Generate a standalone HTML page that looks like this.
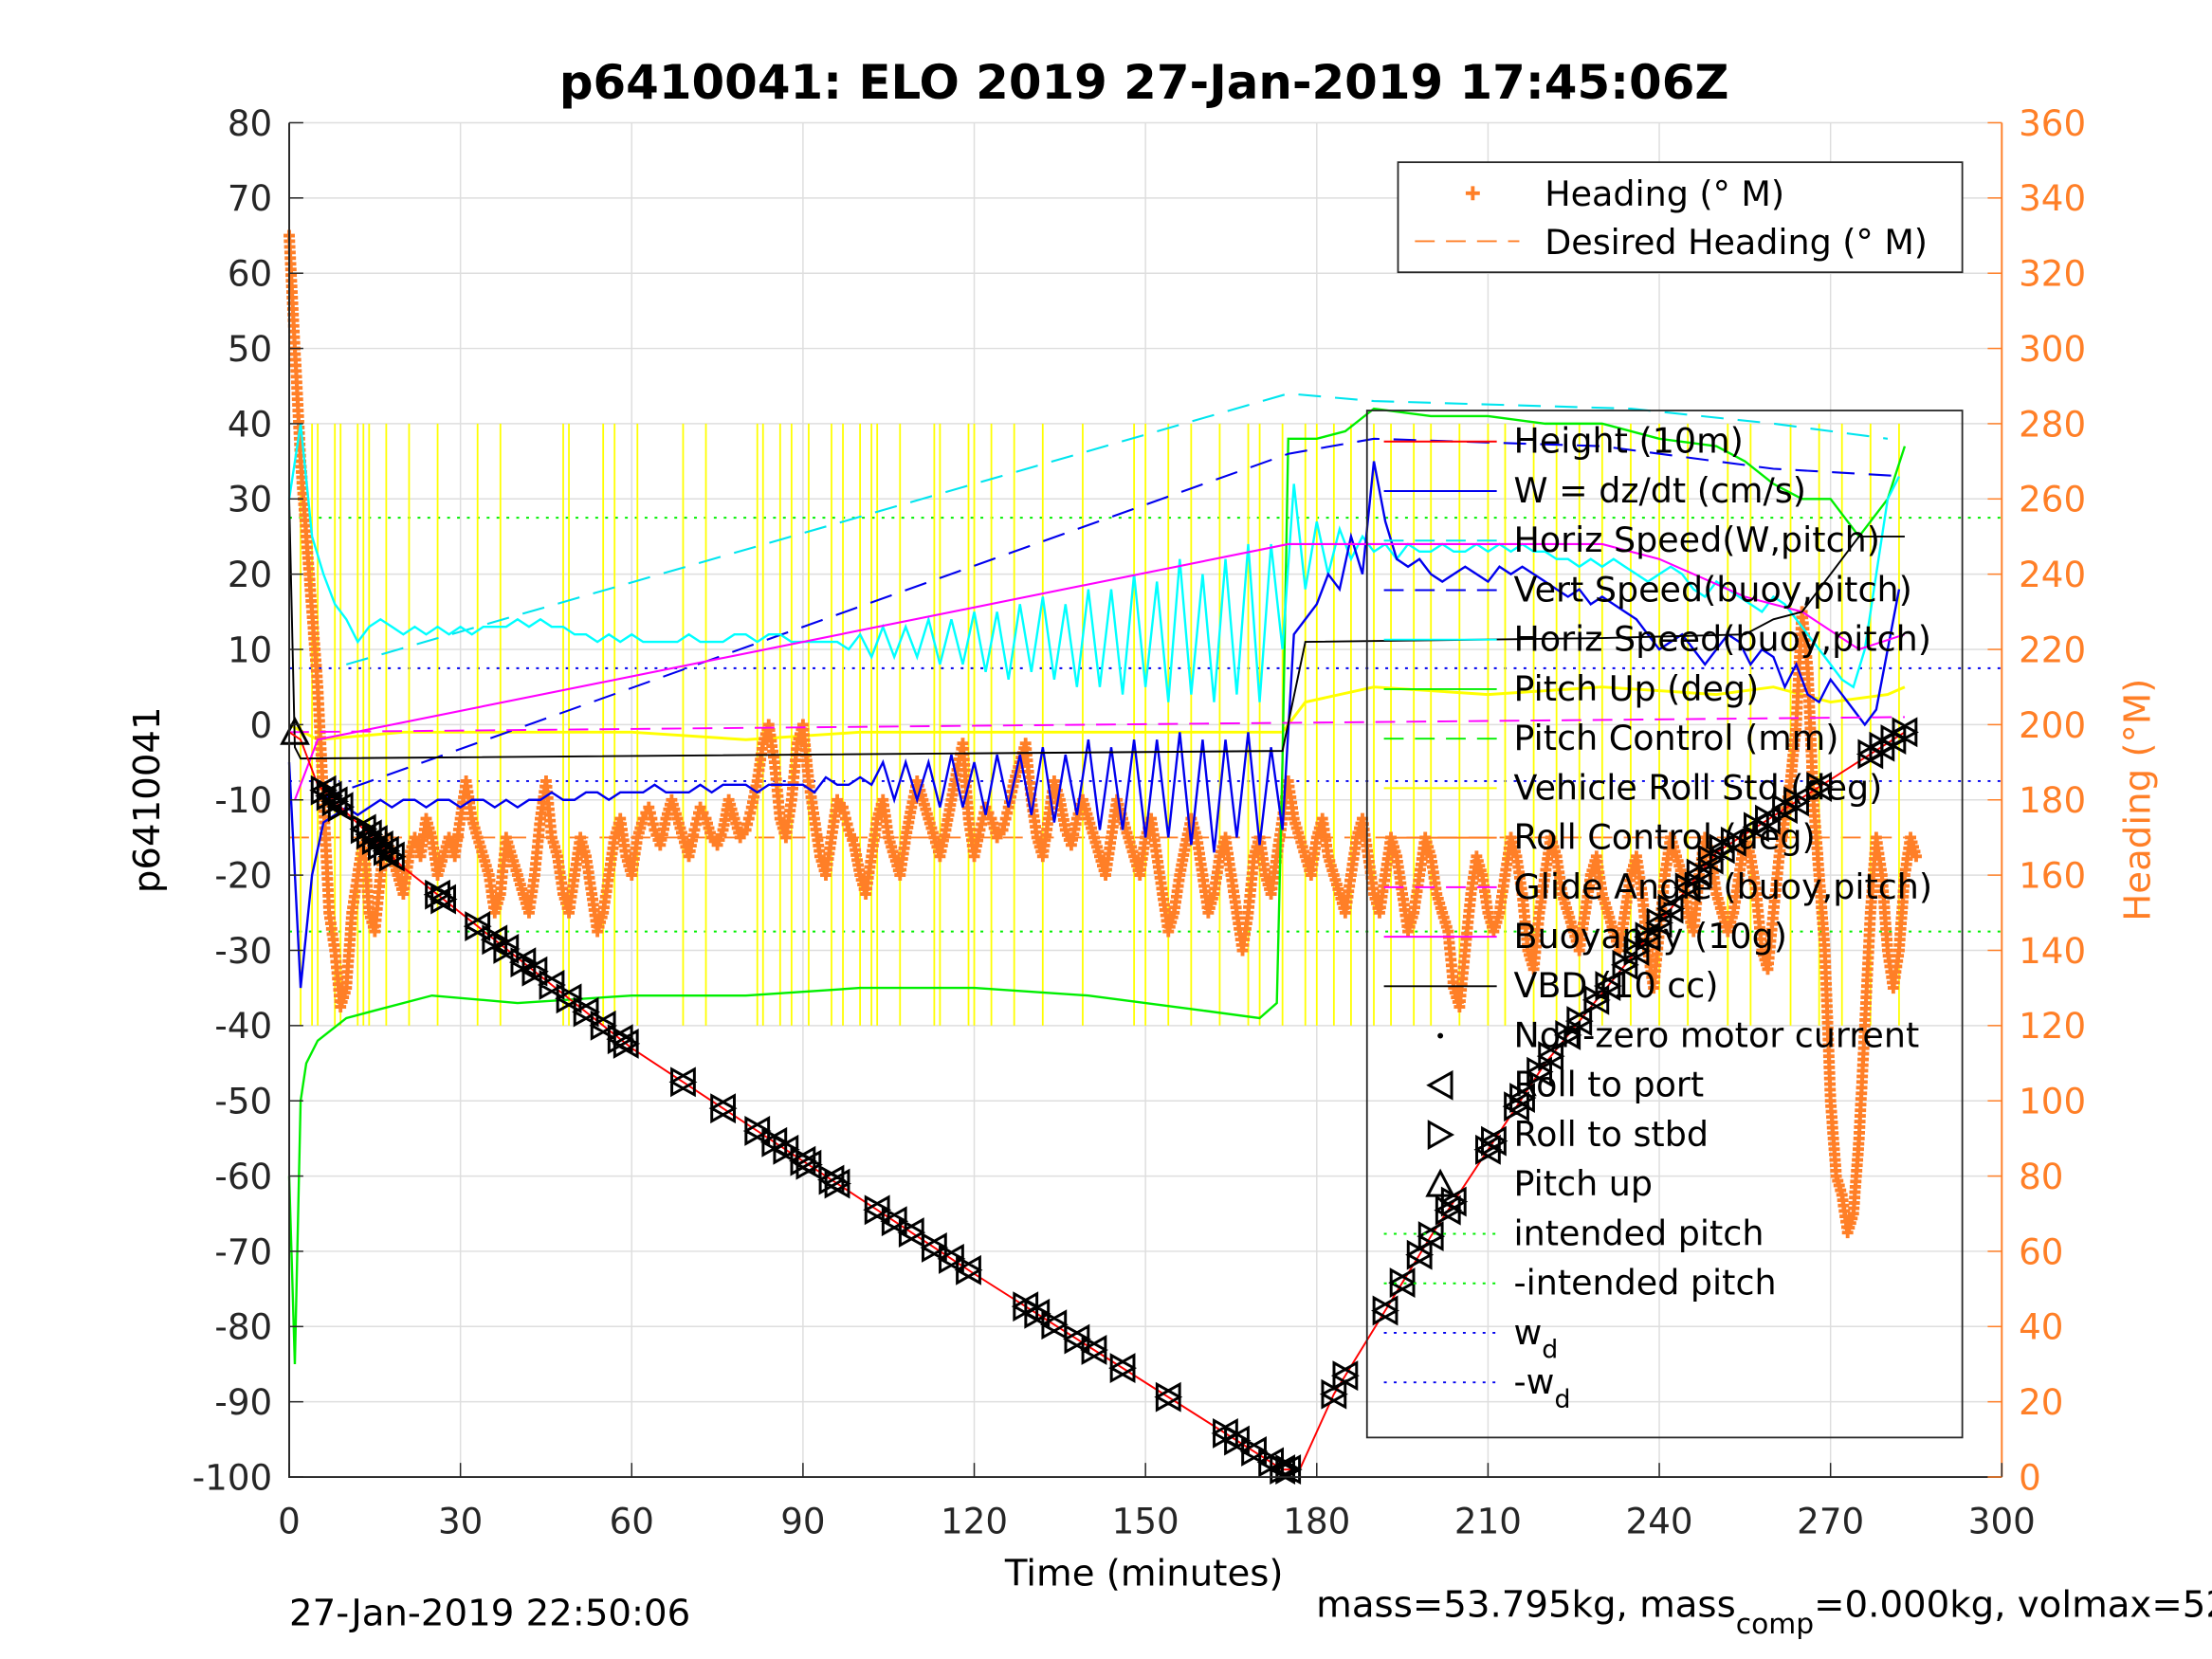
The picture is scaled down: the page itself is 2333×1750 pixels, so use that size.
<!DOCTYPE html>
<html><head><meta charset="utf-8"><style>
html,body{margin:0;padding:0;background:#fff;}
svg{display:block;}
text{font-family:"DejaVu Sans","Liberation Sans",sans-serif;}
</style></head><body>
<svg id="chart" width="2333" height="1750" viewBox="0 0 1568 1176" preserveAspectRatio="none" xmlns="http://www.w3.org/2000/svg">
<rect x="0" y="0" width="1568" height="1176" fill="#fff"/>
<text x="811" y="70" font-size="33.5" font-weight="bold" text-anchor="middle">p6410041: ELO 2019 27-Jan-2019 17:45:06Z</text>
<g id="grid"></g>
<g id="marks"></g>
<g id="axes"></g>
<g id="legend"></g>
<text x="811" y="1124" font-size="26" text-anchor="middle">Time (minutes)</text>
<text x="0" y="0" font-size="26" text-anchor="middle" transform="translate(113,567) rotate(-90)">p6410041</text>
<text x="0" y="0" font-size="26" fill="#ff7f27" text-anchor="middle" transform="translate(1524,567) rotate(-90)">Heading (°M)</text>
<text x="205" y="1152" font-size="26">27-Jan-2019 22:50:06</text>
<text x="933" y="1146" font-size="26">mass=53.795kg, mass<tspan font-size="20" dy="12">comp</tspan><tspan dy="-12">=0.000kg, volmax=52512cc</tspan></text>
</svg>
<script>
const xTicks=[0,30,60,90,120,150,180,210,240,270,300];
const yTicks=[80,70,60,50,40,30,20,10,0,-10,-20,-30,-40,-50,-60,-70,-80,-90,-100];
const y2Ticks=[360,340,320,300,280,260,240,220,200,180,160,140,120,100,80,60,40,20,0];
const depthT=[0,2,5,20,60,120,174,177,183,200,220,250,283];
const depthV=[-1,-2,-8,-19,-43,-73,-99,-99,-89,-68,-45,-17,-1];
const markerT=[6,7,8,9,13,14,15,16,17,18,26,27,33,36,38,41,43,46,49,52,55,58,59,69,76,82,85,87,90,91,95,96,103,106,109,113,116,119,129,131,134,138,141,146,154,164,166,169,172,174,175,183,185,192,195,198,200,203,204,210,211,215,216,219,221,224,226,229,231,234,236,238,240,242,245,247,249,251,253,257,259,262,264,268,277,279,281,283];
const heading=[330,300,270,250,230,210,180,150,140,125,130,150,160,170,150,145,160,170,165,160,155,165,170,165,175,170,160,165,170,165,175,185,175,170,165,160,150,155,170,165,160,155,150,160,175,185,170,165,155,150,160,170,165,155,145,150,160,170,175,165,160,170,175,178,172,168,175,180,175,170,165,172,178,175,170,168,172,180,175,170,172,178,185,195,200,190,175,170,180,195,200,185,175,165,160,170,180,178,172,168,160,155,165,175,180,170,165,160,170,178,185,180,175,170,165,172,180,188,195,175,165,172,178,175,170,172,178,185,190,195,180,170,165,175,185,180,172,168,175,180,175,170,165,160,170,180,175,170,165,160,170,175,165,155,145,150,160,168,175,170,160,150,155,165,170,160,150,140,150,165,170,160,155,165,175,185,175,170,165,160,170,175,165,160,155,150,160,170,175,165,155,150,160,170,165,155,145,150,160,170,165,155,150,145,130,125,140,155,165,160,150,145,150,160,170,165,155,140,135,150,160,170,165,155,150,145,140,150,160,165,155,150,145,140,150,160,165,155,140,130,145,160,170,165,160,150,145,160,170,165,155,150,145,150,160,170,165,155,140,135,150,165,175,185,200,230,215,180,160,140,100,80,75,65,70,90,120,150,170,160,140,130,140,160,170,165];
const wSpeed=[-5,-35,-20,-13,-12,-11,-12,-11,-10,-11,-10,-10,-11,-10,-10,-11,-10,-10,-11,-10,-11,-10,-10,-9,-10,-10,-9,-9,-10,-9,-9,-9,-8,-9,-9,-9,-8,-9,-8,-8,-8,-9,-8,-8,-8,-8,-9,-7,-8,-8,-7,-8,-5,-10,-5,-10,-5,-11,-4,-11,-5,-12,-4,-11,-4,-12,-3,-13,-4,-12,-2,-14,-3,-14,-2,-15,-2,-15,-1,-16,-2,-17,-2,-15,-1,-16,-3,-14,12,14,16,20,18,25,20,35,27,22,21,22,20,19,20,21,20,19,21,20,21,20,19,18,17,18,16,17,16,15,14,12,10,11,12,10,8,10,12,11,8,10,9,5,8,4,3,6,4,2,0,2,10,18];
const hSpeed=[30,40,25,20,16,14,11,13,14,13,12,13,12,13,12,13,12,13,13,13,14,13,14,13,13,12,12,11,12,11,12,11,11,11,11,12,11,11,11,12,12,11,12,12,11,11,11,11,11,10,12,9,13,9,13,9,14,8,14,8,15,7,15,6,16,7,17,6,16,5,18,5,18,4,20,5,19,3,22,4,20,3,22,4,24,3,24,10,32,18,27,20,26,22,25,23,24,22,24,23,23,24,23,23,24,23,24,23,24,23,23,22,22,21,22,21,22,21,20,19,20,21,20,18,17,19,18,17,16,15,17,16,14,12,10,8,6,5,10,20,30,33];
const pitchT=[0,1,2,3,5,10,15,25,40,60,80,100,120,140,150,160,170,173,174,175,180,185,190,200,210,220,230,240,250,255,260,265,270,275,280,283];
const pitchV=[-60,-85,-50,-45,-42,-39,-38,-36,-37,-36,-36,-35,-35,-36,-37,-38,-39,-37,-5,38,38,39,42,41,41,40,40,38,37,35,32,30,30,25,30,37];
const rollSpikeT=[2,4,5,8,9,12,13,14,17,21,26,33,37,48,49,55,57,61,69,73,82,83,86,88,91,95,97,100,102,103,107,113,114,119,120,123,127,132,139,148,150,154,158,163,168,170,174,178,180,183,186,190,193,197,200,205,210,213,218,222,226,230,235,240,245,252,256,263,268,272,277,282];
const rollT=[0,5,20,40,60,80,100,120,140,160,174,178,190,210,230,250,260,270,280,283];
const rollV=[0,-2,-1,-1,-1,-2,-1,-1,-1,-1,-1,3,5,4,5,4,5,3,4,5];
const buoyT=[1,3,5,175,200,230,240,255,265,275,283];
const buoyV=[-10,-6,-2,24,24,24,22,17,15,10,12];
const vbdT=[0,1,2,174,178,230,255,260,265,275,283];
const vbdV=[30,-3,-4.5,-3.5,11,11.5,12,14,15,25,25];
const hsWT=[10,175,190,235,260,280];
const hsWV=[8,44,43,42,40,38];
const vsBT=[5,175,190,230,260,283];
const vsBV=[-10,36,38,37,34,33];

const NS='http://www.w3.org/2000/svg';
const L=205,R=1419,T=87,B=1047;
const X=t=>L+t*(R-L)/300;
const Y=v=>B-(v+100)*(B-T)/180;
const YR=h=>B-h*(B-T)/360;
function mk(tag,attrs,parent){const e=document.createElementNS(NS,tag);for(const k in attrs)e.setAttribute(k,attrs[k]);parent.appendChild(e);return e;}
function interp(ts,vs,t){for(let i=1;i<ts.length;i++){if(t<=ts[i]){const f=(t-ts[i-1])/(ts[i]-ts[i-1]);return vs[i-1]+f*(vs[i]-vs[i-1]);}}return vs[vs.length-1];}
function poly(pts){return pts.map(p=>p[0].toFixed(1)+','+p[1].toFixed(1)).join(' ');}
const grid=document.getElementById('grid'),marks=document.getElementById('marks'),axes=document.getElementById('axes'),leg=document.getElementById('legend');

xTicks.forEach(t=>{const l=mk('line',{x1:X(t),x2:X(t),y1:T,y2:B,stroke:'#dedede','stroke-width':1},grid);

});
yTicks.forEach(v=>{const l=mk('line',{x1:L,x2:R,y1:Y(v),y2:Y(v),stroke:'#dedede','stroke-width':1},grid);

});

function hline(v,color,dash,name,t0,t1){const l=mk('line',{x1:X(t0),x2:X(t1),y1:Y(v),y2:Y(v),stroke:color,'stroke-width':1.3,'stroke-dasharray':dash},marks);

}
hline(27.5,'#00ee00','2 5','intended-pitch-line',0,300);
hline(-27.5,'#00ee00','2 5','neg-intended-pitch-line',0,300);
hline(7.5,'#0000ee','2 5','wd-line',0,300);
hline(-7.5,'#0000ee','2 5','neg-wd-line',0,300);
hline(-15,'#ff7f27','14 8','desired-heading-line',0,283);

rollSpikeT.forEach(t=>{const l=mk('line',{x1:X(t),x2:X(t),y1:Y(-40),y2:Y(40),stroke:'#ffff00','stroke-width':1.2},marks);

});
function series(ts,vs,color,w,name,dash){const p=mk('polyline',{points:poly(ts.map((t,i)=>[X(t),Y(vs[i])])),fill:'none',stroke:color,'stroke-width':w,'stroke-dasharray':dash||'none'},marks);

}
series(rollT,rollV,'#ffff00',2,'vehicle-roll-line');
let hp='';
for(let i=0;i<heading.length;i++){
  const h0=heading[i],h1=i+1<heading.length?heading[i+1]:h0;
  const x0=X(i),x1=X(Math.min(i+1,heading.length-1));
  const y0=YR(h0),y1=YR(h1);
  const n=Math.max(1,Math.ceil(Math.abs(y1-y0)/4));
  for(let k=0;k<n;k++){const f=k/n;const x=x0+(x1-x0)*f,y=y0+(y1-y0)*f;hp+=`M${(x-4).toFixed(1)},${y.toFixed(1)}h8M${x.toFixed(1)},${(y-4).toFixed(1)}v8`;}
}
const hpath=mk('path',{d:hp,stroke:'#ff7f27','stroke-width':2.6,fill:'none'},marks);


series(pitchT,pitchV,'#00ee00',1.6,'pitch-line');
series(hsWT,hsWV,'#00e5ee',1.4,'horiz-speed-w-pitch-line','16 10');
series(vsBT,vsBV,'#0000ee',1.4,'vert-speed-buoy-pitch-line','16 10');
series(hSpeed.map((v,i)=>i*2),hSpeed,'#00ffff',1.6,'horiz-speed-buoy-line');
series(wSpeed.map((v,i)=>i*2),wSpeed,'#0000ee',1.6,'w-speed-line');
series([0,283],[-1,1],'#ff00ff',1.3,'glide-angle-line','14 8');
series(buoyT,buoyV,'#ff00ff',1.4,'buoyancy-line');
series(vbdT,vbdV,'#000000',1.3,'vbd-line');
series(depthT,depthV,'#ff0000',1.3,'height-line');
let mp='';markerT.forEach(t=>{const x=X(t),y=Y(interp(depthT,depthV,t));mp+=`M${x+8},${y-9}L${x-8},${y}L${x+8},${y+9}ZM${x-8},${y-9}L${x+8},${y}L${x-8},${y+9}Z`;});
const mpath=mk('path',{d:mp,stroke:'#000','stroke-width':2,fill:'none'},marks);


const pu=mk('path',{d:`M${X(1)-9},${Y(-1)+8}L${X(1)},${Y(-1)-9}L${X(1)+9},${Y(-1)+8}Z`,stroke:'#000','stroke-width':2,fill:'none'},marks);



const ab=mk('path',{d:`M${L},${T}V${B}H${R}`,stroke:'#262626','stroke-width':1.3,fill:'none'},axes);


const ar=mk('line',{x1:R,x2:R,y1:T,y2:B,stroke:'#ff7f27','stroke-width':1.3},axes);


xTicks.forEach(t=>{mk('line',{x1:X(t),x2:X(t),y1:B,y2:B-10,stroke:'#262626'},axes);
const tx=mk('text',{x:X(t),y:B+40,'font-size':25,'text-anchor':'middle',fill:'#262626'},axes);tx.textContent=t;

});
yTicks.forEach(v=>{mk('line',{x1:L,x2:L+10,y1:Y(v),y2:Y(v),stroke:'#262626'},axes);
const tx=mk('text',{x:L-12,y:Y(v)+9,'font-size':25,'text-anchor':'end',fill:'#262626'},axes);tx.textContent=v;

});
y2Ticks.forEach(h=>{mk('line',{x1:R,x2:R-10,y1:YR(h),y2:YR(h),stroke:'#ff7f27'},axes);
const tx=mk('text',{x:R+12,y:YR(h)+9,'font-size':25,fill:'#ff7f27'},axes);tx.textContent=h;

});

const lb1=mk('rect',{x:991,y:115,width:400,height:78,fill:'#fff',stroke:'#262626','stroke-width':1.2},leg);


mk('path',{d:'M1039,137h10M1044,132v10',stroke:'#ff7f27','stroke-width':2.6},leg);
mk('line',{x1:1003,x2:1077,y1:171,y2:171,stroke:'#ff7f27','stroke-width':1.3,'stroke-dasharray':'14 8'},leg);
[['Heading (° M)',146],['Desired Heading (° M)',180]].forEach(a=>{const tx=mk('text',{x:1095,y:a[1],'font-size':24.5},leg);tx.textContent=a[0];

});
const lb2=mk('rect',{x:969,y:291,width:422,height:728,fill:'none',stroke:'#262626','stroke-width':1.2},leg);


const entries=[['Height (10m)','#ff0000','none','line'],['W = dz/dt (cm/s)','#0000ee','none','line'],['Horiz Speed(W,pitch)','#00e5ee','14 8','line'],['Vert Speed(buoy,pitch)','#0000ee','14 8','line'],['Horiz Speed(buoy,pitch)','#00ffff','none','line'],['Pitch Up (deg)','#00ee00','none','line'],['Pitch Control (mm)','#00ee00','14 8','line'],['Vehicle Roll Std (deg)','#ffff00','none','line'],['Roll Control (deg)','#ff7f27','none','line'],['Glide Angle (buoy,pitch)','#ff00ff','14 8','line'],['Buoyancy (10g)','#ff00ff','none','line'],['VBD (10 cc)','#000','none','line'],['Non-zero motor current','#000','none','dot'],['Roll to port','#000','none','lt'],['Roll to stbd','#000','none','rt'],['Pitch up','#000','none','up'],['intended pitch','#00ee00','2 5','line'],['-intended pitch','#00ee00','2 5','line'],['w','#0000ee','2 5','line'],['-w','#0000ee','2 5','line']];
entries.forEach((e,i)=>{const y=313+i*35.1;
if(e[3]==='line')mk('line',{x1:981,x2:1061,y1:y,y2:y,stroke:e[1],'stroke-width':1.3,'stroke-dasharray':e[2]},leg);
else if(e[3]==='dot')mk('circle',{cx:1021,cy:y,r:2,fill:'#000'},leg);
else if(e[3]==='lt')mk('path',{d:`M1029,${y-9}L1013,${y}L1029,${y+9}Z`,stroke:'#000','stroke-width':2,fill:'none'},leg);
else if(e[3]==='rt')mk('path',{d:`M1013,${y-9}L1029,${y}L1013,${y+9}Z`,stroke:'#000','stroke-width':2,fill:'none'},leg);
else mk('path',{d:`M1012,${y+8}L1021,${y-9}L1030,${y+8}Z`,stroke:'#000','stroke-width':2,fill:'none'},leg);
const tx=mk('text',{x:1073,y:y+8,'font-size':24.5},leg);tx.textContent=e[0];
if(i>=18){const s=mk('tspan',{'font-size':18,dy:10},tx);s.textContent='d';}

});
</script>
</body></html>
